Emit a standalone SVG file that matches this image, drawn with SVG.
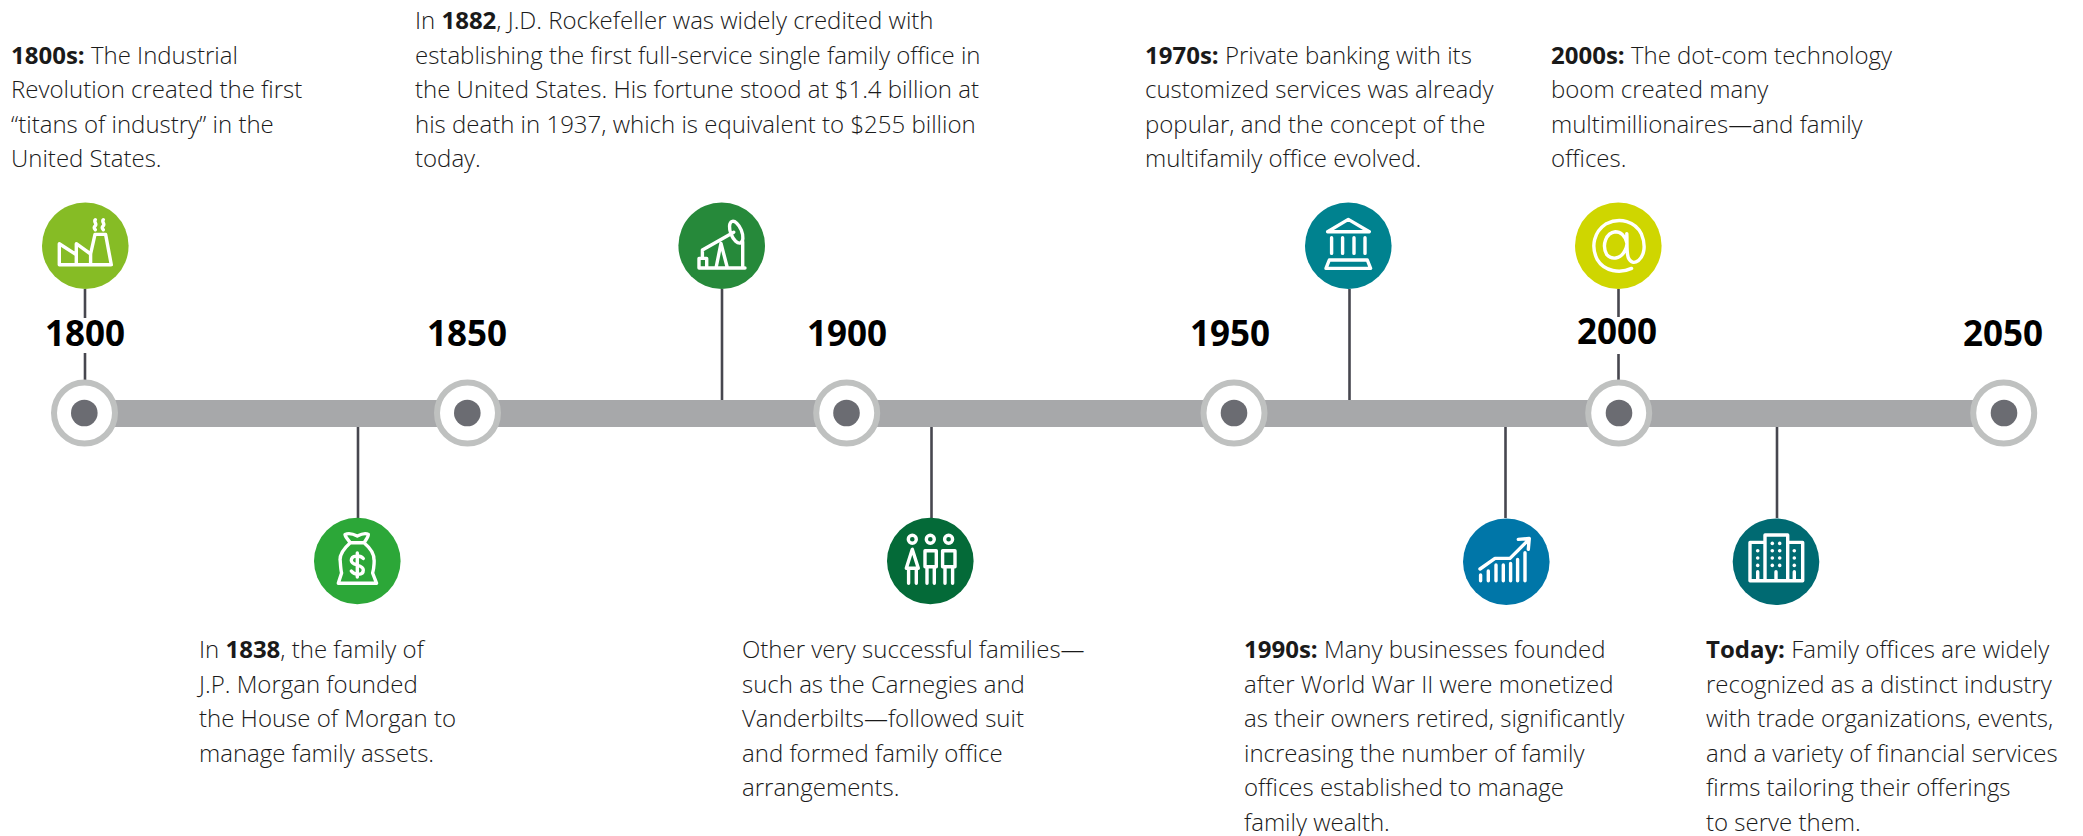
<svg xmlns="http://www.w3.org/2000/svg" width="2083" height="836" viewBox="0 0 2083 836">
<style>
text{font-family:"Open Sans","Noto Sans","Liberation Sans",sans-serif;fill:#1a1a1a}
.t{font-size:24px;font-weight:300}
.b{font-weight:700}
.y{font-size:35px;font-weight:700;fill:#000;text-anchor:middle}
.c{stroke:#47474f;stroke-width:2.600;fill:none}
.r{fill:#fff;stroke:#bfc1c0;stroke-width:6}
.d{fill:#6b6c72}
.i{fill:none;stroke:#fff;stroke-width:3.400;stroke-linejoin:round;stroke-linecap:round}
.w{fill:#fff}
</style>
<rect id="axis" x="84" y="400" width="1920" height="27" fill="#a7a8aa"/>
<g id="connectors">
<path class="c" d="M85 289V318M85 353V382"/>
<path class="c" d="M358 427V518"/>
<path class="c" d="M722 289V400"/>
<path class="c" d="M931.500 427V518"/>
<path class="c" d="M1349.500 289V400"/>
<path class="c" d="M1505.500 427V518"/>
<path class="c" d="M1618.500 289V317M1618.500 354V382"/>
<path class="c" d="M1777 427V518"/>
</g>
<g id="t1800"><circle class="r" cx="84.500" cy="413" r="30.500"/><circle class="d" cx="84.300" cy="413" r="13.300"/><text class="y" x="85" y="345.500">1800</text></g>
<g id="t1850"><circle class="r" cx="467.500" cy="413" r="30.500"/><circle class="d" cx="467.300" cy="413" r="13.300"/><text class="y" x="467" y="345.500">1850</text></g>
<g id="t1900"><circle class="r" cx="846.700" cy="413" r="30.500"/><circle class="d" cx="846.500" cy="413" r="13.300"/><text class="y" x="847" y="345.500">1900</text></g>
<g id="t1950"><circle class="r" cx="1234" cy="413" r="30.500"/><circle class="d" cx="1234" cy="413" r="13.300"/><text class="y" x="1230" y="345.500">1950</text></g>
<g id="t2000"><circle class="r" cx="1618.700" cy="413" r="30.500"/><circle class="d" cx="1619" cy="413" r="13.300"/><text class="y" x="1617" y="344">2000</text></g>
<g id="t2050"><circle class="r" cx="2003.700" cy="413" r="30.500"/><circle class="d" cx="2004" cy="413" r="13.300"/><text class="y" x="2003" y="346">2050</text></g>

<g id="n-factory" transform="translate(85.300 245.700)"><circle r="43.300" fill="#86bc25"/>
<path class="i" d="M-26 19V-2L-9 9V-2L5.300 8.300M-9 9V19M5.300 8.300V19M5.300 8.300L9.700-11.300H20.300L26 19H-26M10-26c-2 2 2 4 0 6s-1 3 0 4M18-26c-2 2 2 4 0 6s-1 3 0 4" /></g>

<g id="n-money" transform="translate(357.300 561)"><circle r="43.300" fill="#2ca738"/>
<path class="i" d="M-7-18.300C-9-21-12-24-12.300-26.500-8-28.500-4-27 0-25 4-27 8-28.500 11-26.500 11-24 8.500-21 6.700-18.300ZM-7-18.300C-13-13-17.500-7-17.300-1-17-3-17 7-15.700 12L-19 22.300H19.300L15.300 12C17 7 17-3 16.700-1 17-7 13-13 6.700-18.300"/>
<path class="i" stroke-width="3" d="M6-2.500C3-6-6-6-6-.500S6 3 6 9 -3 14-6 10M0-8V16"/></g>

<g id="n-oil" transform="translate(721.700 245.700)"><circle r="43.300" fill="#26893a"/>
<path class="i" d="M-22.700 22.300H23.300M-22.700 22.300V12.700H-15V22.300M-22.700 12.700H-19.300V4.300L12-13.500M-5.700 22.300L-.7-2.300 5.700 22.300M21 -4V22.300"/>
<ellipse class="i" cx="14.500" cy="-13.500" rx="5.500" ry="11.500" transform="rotate(-22 14.500 -13.500)"/></g>

<g id="n-family" transform="translate(930.300 561)"><circle r="43.300" fill="#046a38"/>
<g class="i"><circle cx="-18" cy="-21.700" r="4"/><circle cx="0" cy="-21.700" r="4"/><circle cx="18.300" cy="-21.700" r="4"/>
<path d="M-18-11.700L-24 7.300H-12ZM-21.700 7.300V22.300M-14 7.300V22.300M-5.300-10.300H6V5.700H-5.300ZM-3.300 5.700V22.300M4 5.700V22.300M12.300-10.300H24.700V5.700H12.300ZM14.700 5.700V22.300M22.300 5.700V22.300"/></g></g>

<g id="n-bank" transform="translate(1348.300 245.700)"><circle r="43.300" fill="#00828f"/>
<path class="i" d="M-20.700-14L0-26.300 21-14ZM-16.700-8V7.700M-5.700-8V7.700M5.700-8V7.700M16.700-8V7.700M-19 14.300H19L22.300 22.700H-22.300Z"/></g>

<g id="n-chart" transform="translate(1506.300 561.700)"><circle r="43.300" fill="#0076a8"/>
<path class="i" d="M-25.700 13.300V19M-18 9.300V19M-10.300 3.300V19M-3 3.300V19M4.300 1.700V19M11.300-2.300V19M18.700-9V19M-26.300 7.300L-11.300-3.300H3.700L22-21.700M12-22.300L23-23.300 22-12.300"/></g>

<g id="n-at" transform="translate(1618.300 245.700)"><circle r="43.300" fill="#cfd600"/>
<path class="i" d="M13.300 22.700C2 28-14 26-21 14-28 0-24-14-12-22 2-29 17-24 23-12 28 0 26 10 20 15 16 18 12 17 10 12 8 6 9-4 8.500-12M8.500-3C7-10 2-14-3-14-12-13-17-1-11.500 9-7 14 2 14 6.500 5 8 2 9-1 8.500-3"/></g>

<g id="n-building" transform="translate(1776 561.700)"><circle r="43.300" fill="#006a72"/>
<path class="i" d="M-26-19.300H-11V19H-26ZM-11-26.700H11.700V19H-11ZM11.700-19.300H26.700V19H11.700ZM-18.300 10V19M0 10V19M18.300 10V19"/>
<g class="w"><circle cx="-18.300" cy="-11" r="1.800"/><circle cx="-18.300" cy="-3.700" r="1.800"/><circle cx="-18.300" cy="3.700" r="1.800"/><circle cx="18.300" cy="-11" r="1.800"/><circle cx="18.300" cy="-3.700" r="1.800"/><circle cx="18.300" cy="3.700" r="1.800"/><circle cx="-3.700" cy="-18.300" r="1.800"/><circle cx="3.700" cy="-18.300" r="1.800"/><circle cx="-3.700" cy="-11" r="1.800"/><circle cx="3.700" cy="-11" r="1.800"/><circle cx="-3.700" cy="-3.700" r="1.800"/><circle cx="3.700" cy="-3.700" r="1.800"/><circle cx="-3.700" cy="3.700" r="1.800"/><circle cx="3.700" cy="3.700" r="1.800"/></g></g>

<g id="txt-1800"><text class="t" x="11" y="63.500"><tspan class="b">1800s:</tspan> The Industrial</text><text class="t" x="11" y="98">Revolution created the first</text><text class="t" x="11" y="132.500">“titans of industry” in the</text><text class="t" x="11" y="167">United States.</text></g>
<g id="txt-1838"><text class="t" x="199" y="658">In <tspan class="b">1838</tspan>, the family of</text><text class="t" x="199" y="692.500">J.P. Morgan founded</text><text class="t" x="199" y="727">the House of Morgan to</text><text class="t" x="199" y="761.500">manage family assets.</text></g>
<g id="txt-1882"><text class="t" x="415" y="29">In <tspan class="b">1882</tspan>, J.D. Rockefeller was widely credited with</text><text class="t" x="415" y="63.500">establishing the first full-service single family office in</text><text class="t" x="415" y="98">the United States. His fortune stood at $1.4 billion at</text><text class="t" x="415" y="132.500">his death in 1937, which is equivalent to $255 billion</text><text class="t" x="415" y="167">today.</text></g>
<g id="txt-other"><text class="t" x="742" y="658">Other very successful families—</text><text class="t" x="742" y="692.500">such as the Carnegies and</text><text class="t" x="742" y="727">Vanderbilts—followed suit</text><text class="t" x="742" y="761.500">and formed family office</text><text class="t" x="742" y="796">arrangements.</text></g>
<g id="txt-1970"><text class="t" x="1145" y="63.500"><tspan class="b">1970s:</tspan> Private banking with its</text><text class="t" x="1145" y="98">customized services was already</text><text class="t" x="1145" y="132.500">popular, and the concept of the</text><text class="t" x="1145" y="167">multifamily office evolved.</text></g>
<g id="txt-1990"><text class="t" x="1244" y="658"><tspan class="b">1990s:</tspan> Many businesses founded</text><text class="t" x="1244" y="692.500">after World War II were monetized</text><text class="t" x="1244" y="727">as their owners retired, significantly</text><text class="t" x="1244" y="761.500">increasing the number of family</text><text class="t" x="1244" y="796">offices established to manage</text><text class="t" x="1244" y="830.500">family wealth.</text></g>
<g id="txt-2000"><text class="t" x="1551" y="63.500"><tspan class="b">2000s:</tspan> The dot-com technology</text><text class="t" x="1551" y="98">boom created many</text><text class="t" x="1551" y="132.500">multimillionaires—and family</text><text class="t" x="1551" y="167">offices.</text></g>
<g id="txt-today"><text class="t" x="1706" y="658"><tspan class="b">Today:</tspan> Family offices are widely</text><text class="t" x="1706" y="692.500">recognized as a distinct industry</text><text class="t" x="1706" y="727">with trade organizations, events,</text><text class="t" x="1706" y="761.500">and a variety of financial services</text><text class="t" x="1706" y="796">firms tailoring their offerings</text><text class="t" x="1706" y="830.500">to serve them.</text></g>
</svg>
